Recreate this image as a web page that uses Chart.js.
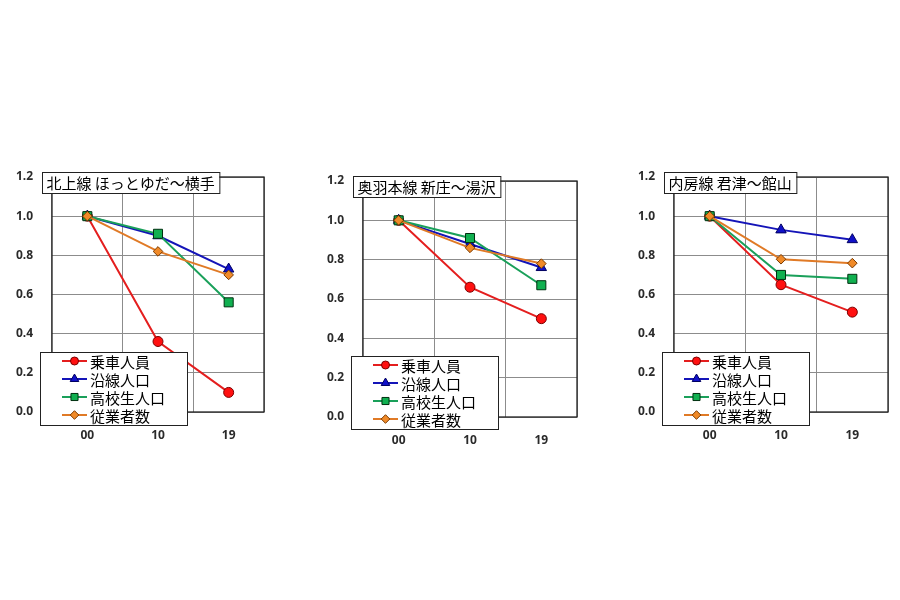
<!DOCTYPE html>
<html>
<head>
<meta charset="utf-8">
<script src="https://cdn.jsdelivr.net/npm/chart.js@4/dist/chart.umd.min.js"></script>
<style>
  html, body { margin: 0; padding: 0; background: #ffffff; }
  body { width: 900px; height: 600px; position: relative; overflow: hidden; }
  .wrap { position: absolute; width: 300px; height: 290px; }
  canvas { display: block; }
</style>
</head>
<body>
<div class="wrap" style="left:0px;top:160px"><canvas id="c1" width="300" height="290"></canvas></div>
<div class="wrap" style="left:300px;top:160px"><canvas id="c2" width="300" height="290"></canvas></div>
<div class="wrap" style="left:600px;top:160px"><canvas id="c3" width="300" height="290"></canvas></div>
<script>
// ---- data ----
const categories = ['00', '10', '19'];
const seriesNames = ['乗車人員', '沿線人口', '高校生人口', '従業者数'];
const chartTitles = ['北上線 ほっとゆだ～横手', '奥羽本線 新庄～湯沢', '内房線 君津～館山'];
const yMin = 0.0;
const yMax = 1.2;
const yStep = 0.2;

const kitakamiRiders     = [1.00, 0.36, 0.10];
const kitakamiPopulation = [1.00, 0.90, 0.73];
const kitakamiStudents   = [1.00, 0.91, 0.56];
const kitakamiWorkers    = [1.00, 0.82, 0.70];

const ouRiders     = [1.00, 0.66, 0.50];
const ouPopulation = [1.00, 0.88, 0.76];
const ouStudents   = [1.00, 0.91, 0.67];
const ouWorkers    = [1.00, 0.86, 0.78];

const uchiboRiders     = [1.00, 0.65, 0.51];
const uchiboPopulation = [1.00, 0.93, 0.88];
const uchiboStudents   = [1.00, 0.70, 0.68];
const uchiboWorkers    = [1.00, 0.78, 0.76];

// ---- styles ----
const seriesStyles = [
  { line: '#e41e1e', fill: '#ff1010', edge: '#7a0000', shape: 'circle',   r: 5,   lr: 4,   order: 4 },
  { line: '#1414b8', fill: '#1010c8', edge: '#000060', shape: 'triangle', r: 6,   lr: 5,   order: 3 },
  { line: '#1aa05a', fill: '#10b050', edge: '#003010', shape: 'rect',     r: 6.4, lr: 5,   order: 2 },
  { line: '#e07a26', fill: '#f08a28', edge: '#7a3a00', shape: 'rectRot',  r: 4.8, lr: 4.3, order: 1 }
];

const CJK = "'Noto Sans CJK JP', 'Noto Sans', sans-serif";

function drawMarker(ctx, st, x, y) {
  ctx.save();
  ctx.fillStyle = st.fill;
  ctx.strokeStyle = st.edge;
  ctx.lineWidth = 1;
  Chart.helpers.drawPoint(ctx, { pointStyle: st.shape, radius: st.lr, borderWidth: 1, rotation: 0 }, x, y);
  ctx.restore();
}

const boxPlugin = {
  id: 'boxes',
  beforeDatasetsDraw(chart) {
    const a = chart.chartArea, ctx = chart.ctx;
    ctx.save();
    ctx.strokeStyle = '#222222';
    ctx.lineWidth = 1.3;
    ctx.strokeRect(a.left, a.top, a.right - a.left, a.bottom - a.top);
    ctx.restore();
  },
  afterDraw(chart, args, opts) {
    const a = chart.chartArea, ctx = chart.ctx;
    ctx.save();
    ctx.font = '15px ' + CJK;
    ctx.textBaseline = 'middle';
    ctx.textAlign = 'left';
    // title box
    const title = opts.title;
    const tw = ctx.measureText(title).width;
    const tx = a.left - 10, ty = a.top - 5, th = 21, tW = tw + 9;
    ctx.fillStyle = '#ffffff';
    ctx.fillRect(tx, ty, tW, th);
    ctx.strokeStyle = '#222222';
    ctx.lineWidth = 1;
    ctx.strokeRect(tx + 0.5, ty + 0.5, tW, th);
    ctx.fillStyle = '#000000';
    ctx.fillText(title, tx + 4.5, ty + th / 2 + 1);
    // legend box
    const lx = a.left - 12, ly = a.top + 175, lw = 147, lh = 73;
    ctx.fillStyle = '#ffffff';
    ctx.fillRect(lx, ly, lw, lh);
    ctx.strokeStyle = '#222222';
    ctx.lineWidth = 1;
    ctx.strokeRect(lx + 0.5, ly + 0.5, lw, lh);
    chart.data.datasets.forEach((ds, i) => {
      const st = seriesStyles[i];
      const cy = ly + 9 + i * 18;
      ctx.strokeStyle = st.line;
      ctx.lineWidth = 2;
      ctx.beginPath();
      ctx.moveTo(lx + 22, cy);
      ctx.lineTo(lx + 47, cy);
      ctx.stroke();
      drawMarker(ctx, st, lx + 34.5, cy);
      ctx.fillStyle = '#000000';
      ctx.fillText(ds.label, lx + 50, cy + 1);
    });
    ctx.restore();
  }
};

function makeChart(id, title, values, area) {
  const datasets = values.map((vals, i) => {
    const st = seriesStyles[i];
    return {
      label: seriesNames[i],
      data: vals,
      borderColor: st.line,
      backgroundColor: st.fill,
      borderWidth: 2,
      pointStyle: st.shape,
      pointRadius: st.r,
      pointHoverRadius: st.r,
      pointBackgroundColor: st.fill,
      pointBorderColor: st.edge,
      pointBorderWidth: 1,
      tension: 0,
      order: st.order,
      clip: false
    };
  });
  return new Chart(document.getElementById(id), {
    type: 'line',
    data: { labels: categories, datasets },
    options: {
      responsive: false,
      animation: false,
      devicePixelRatio: 1,
      layout: { padding: { left: 0, top: area.top, right: area.right, bottom: 0 } },
      plugins: {
        legend: { display: false },
        tooltip: { enabled: false },
        title: { display: false },
        boxes: { title }
      },
      scales: {
        x: {
          type: 'category',
          offset: true,
          grid: { offset: true, color: '#8c8c8c', lineWidth: 1, drawTicks: false },
          border: { display: false },
          ticks: { padding: 16, color: '#2a2a2a', font: { family: "'Noto Sans', sans-serif", size: 12, weight: 'bold' } },
          afterFit(axis) { axis.height = area.xh; axis.paddingLeft = 0; axis.paddingRight = 0; }
        },
        y: {
          min: yMin, max: yMax,
          grid: { color: '#8c8c8c', lineWidth: 1, drawTicks: false },
          border: { display: false },
          ticks: {
            stepSize: yStep, padding: 19, color: '#2a2a2a',
            font: { family: "'Noto Sans', sans-serif", size: 12, weight: 'bold' },
            callback: (v) => Number(v).toFixed(1)
          },
          afterFit(axis) { axis.width = area.left; axis.paddingTop = 0; axis.paddingBottom = 0; }
        }
      }
    },
    plugins: [boxPlugin]
  });
}

makeChart('c1', chartTitles[0], [kitakamiRiders, kitakamiPopulation, kitakamiStudents, kitakamiWorkers],
  { left: 52, top: 17, right: 36, xh: 38 });
makeChart('c2', chartTitles[1], [ouRiders, ouPopulation, ouStudents, ouWorkers],
  { left: 63, top: 21, right: 23, xh: 33 });
makeChart('c3', chartTitles[2], [uchiboRiders, uchiboPopulation, uchiboStudents, uchiboWorkers],
  { left: 74, top: 17, right: 12, xh: 38 });
</script>
</body>
</html>
